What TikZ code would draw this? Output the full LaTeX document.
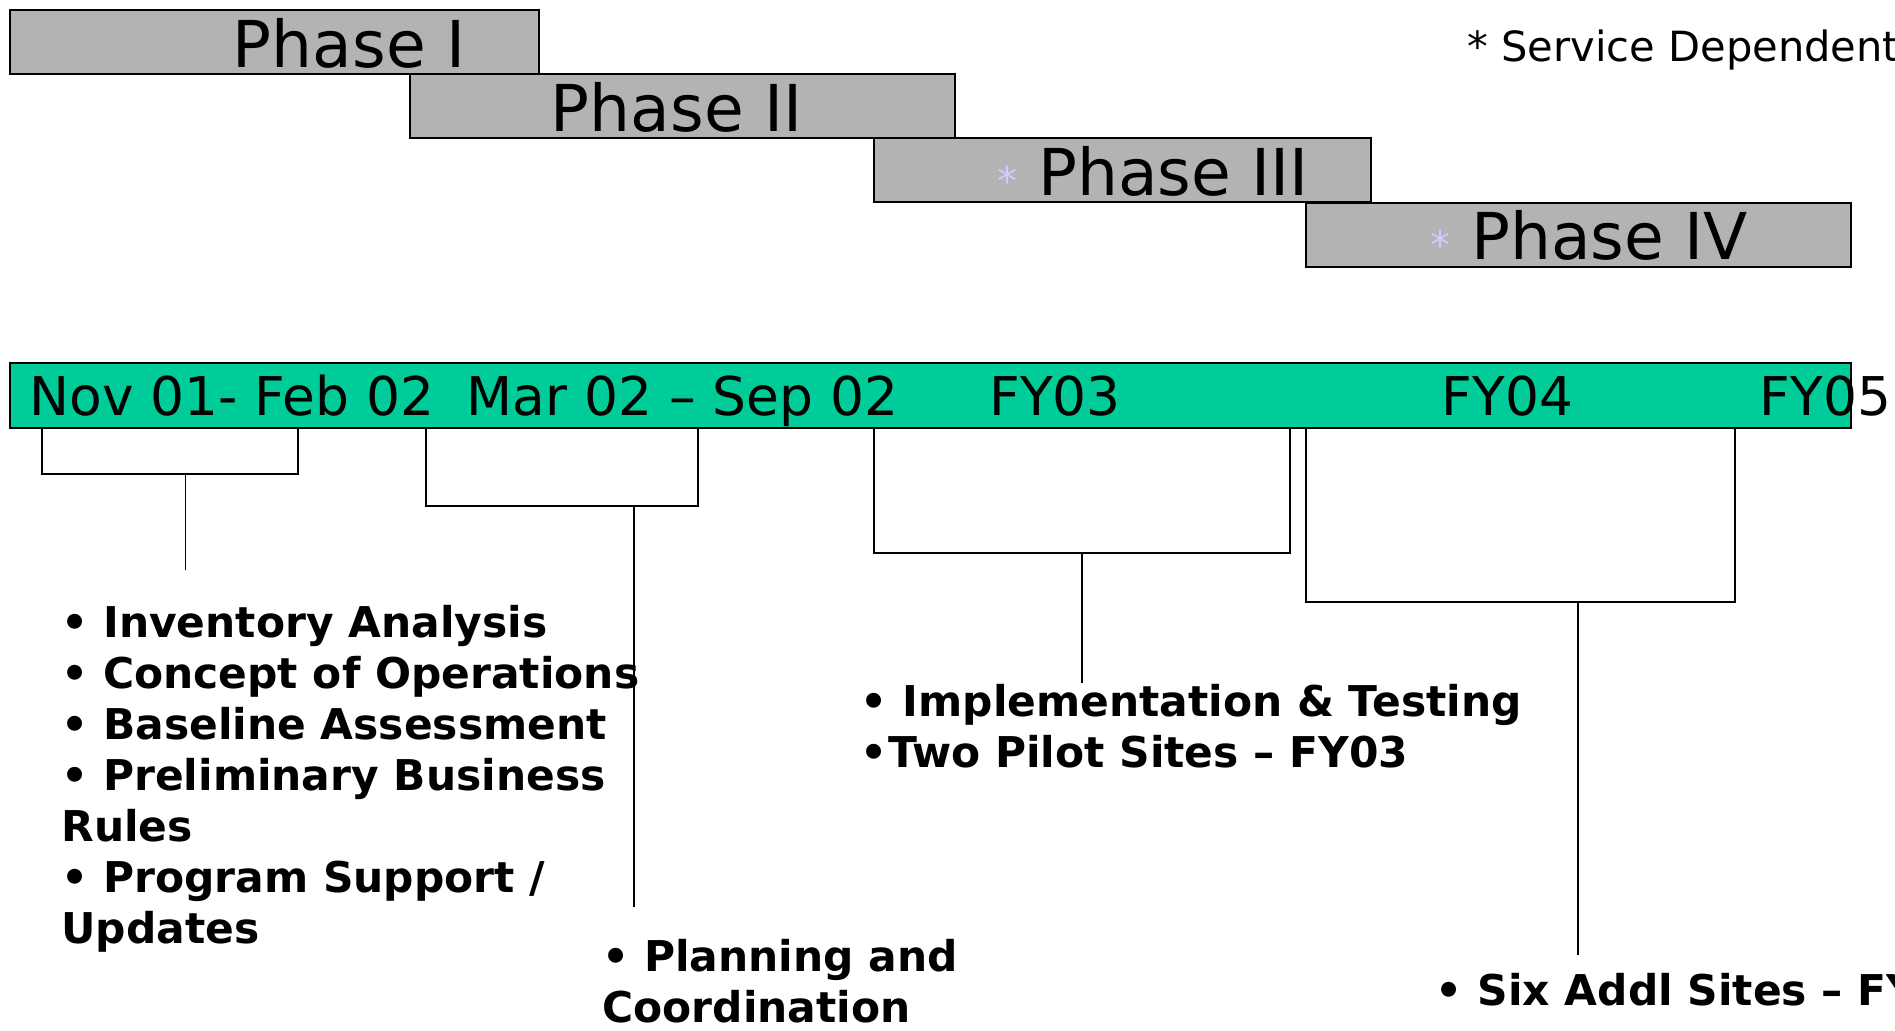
\documentclass[tikz,border=0pt]{standalone}
\usepackage{fontspec}
\setmainfont{DejaVu Sans}
\definecolor{barcol}{HTML}{00CC99}
\definecolor{phcol}{HTML}{B3B3B3}
\definecolor{astcol}{HTML}{CCCCFF}
\newcommand\svcmark{{\fontsize{20}{24}\selectfont\color{astcol}*}}
\begin{document}
\begin{tikzpicture}[x=0.5pt,y=-0.5pt,
    phase/.style={draw,line width=1pt,fill=phcol,minimum height=32pt,anchor=north west,inner sep=0},
    phtxt/.style={anchor=base west,inner sep=0,font=\fontsize{32.3}{38}\selectfont},
    bartxt/.style={anchor=base west,inner sep=0,font=\fontsize{26.7}{31}\selectfont},
    items/.style={anchor=north west,inner sep=0,align=left,font=\fontsize{21.2}{25.5}\selectfont\bfseries},
    brk/.style={line width=1pt},
    stem/.style={line width=0.8pt}]
  \useasboundingbox (0,0) rectangle (1895,1030);
  \node[phase,minimum width=264.5pt] (p1) at (9,9) {};
  \node[phase,minimum width=272.5pt] (p2) at (409,73) {};
  \node[phase,minimum width=248.5pt] (p3) at (873,137) {};
  \node[phase,minimum width=272.5pt] (p4) at (1305,202) {};
  \node[phtxt] (t1) at (232.5,67.3) {Phase I};
  \node[phtxt] (t2) at (550.5,131.7) {Phase II};
  \node[phtxt] (t3) at (997.5,195) {\svcmark{} Phase III};
  \node[phtxt] (t4) at (1430.5,259) {\svcmark{} Phase IV};
  \node[anchor=base west,inner sep=0,font=\fontsize{20.8}{25}\selectfont] (svc) at (1467,61) {* Service Dependent};
  \node[draw,line width=1pt,fill=barcol,anchor=north west,inner sep=0,minimum width=920.5pt,minimum height=32.5pt] (bar) at (9,362) {};
  \node[bartxt] (y1) at (29,415) {Nov 01- Feb 02};
  \node[bartxt] (y2) at (466,415) {Mar 02 – Sep 02};
  \node[bartxt] (y3) at (989,415) {FY03};
  \node[bartxt] (y4) at (1441.5,415) {FY04};
  \node[bartxt] (y5) at (1759.5,415) {FY05};
  \coordinate (s1) at (185.5,570);
  \coordinate (s2) at (634,906.7);
  \coordinate (s3) at (1082,683);
  \coordinate (s4) at (1578,955);
  \draw[brk] (bar.south -| 41.5,0) |- (298,474) -- (bar.south -| 298,0);
  \draw[brk] (bar.south -| 425.6,0) |- (698,505.7) -- (bar.south -| 698,0);
  \draw[brk] (bar.south -| 874,0) |- (1290,553) -- (bar.south -| 1290,0);
  \draw[brk] (bar.south -| 1305.5,0) |- (1734.6,602) -- (bar.south -| 1734.6,0);
  \draw[stem] (185.5,474) -- (s1);
  \draw[stem] (634,505.7) -- (s2);
  \draw[stem] (1082,553) -- (s3);
  \draw[stem] (1578,602) -- (s4);
  \node[items] (l1) at (61,605) {• Inventory Analysis\\• Concept of Operations\\• Baseline Assessment\\• Preliminary Business\\Rules\\• Program Support /\\Updates};
  \node[items] (l2) at (602,939.3) {• Planning and\\Coordination};
  \node[items] (l3) at (860.5,684.3) {• Implementation \& Testing\\•Two Pilot Sites – FY03};
  \node[items] (l4) at (1435.5,972.6) {• Six Addl Sites – FY04};
\end{tikzpicture}
\end{document}
